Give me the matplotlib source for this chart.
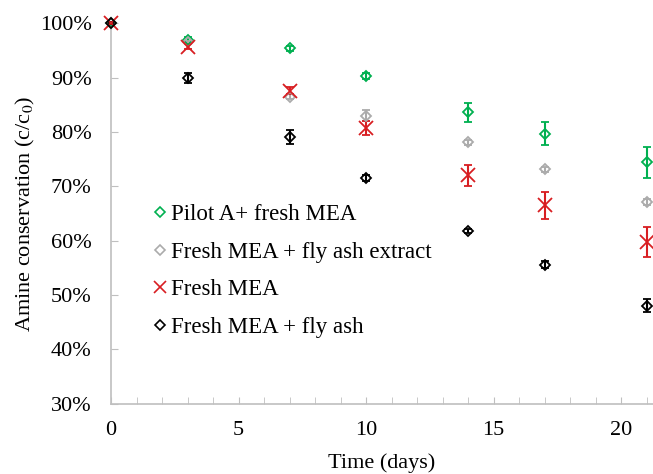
import matplotlib
matplotlib.use('Agg')
from matplotlib import pyplot as plt
from matplotlib.lines import Line2D
from matplotlib.ticker import PercentFormatter, MultipleLocator

days = [0, 3, 7, 10, 14, 17, 21]

pilot_a = [100, 97.0, 95.4, 90.3, 83.6, 79.7, 74.4]
pilot_a_err = [0.3, 0.4, 0.5, 0.5, 1.7, 2.1, 2.9]

ash_extract = [100, 96.5, 86.5, 83.0, 78.1, 73.1, 67.1]
ash_extract_err = [0.2, 0.3, 0.5, 1.0, 0.5, 0.5, 0.5]

fresh = [100, 95.7, 87.6, 80.8, 72.0, 66.5, 59.8]
fresh_err = [0.2, 0.4, 0.6, 1.3, 2.0, 2.5, 2.8]

ash = [100, 89.9, 79.0, 71.5, 61.8, 55.6, 48.0]
ash_err = [0.2, 0.9, 1.3, 0.5, 0.4, 0.6, 1.2]

labels = ['Pilot A+ fresh MEA', 'Fresh MEA + fly ash extract', 'Fresh MEA', 'Fresh MEA + fly ash']
colors = ['#00B050', '#ABABAB', '#D81E22', '#000000']
markers = ['D', 'D', 'x', 'D']

plt.rcParams['font.family'] = ['Liberation Serif', 'DejaVu Serif']
plt.rcParams['mathtext.fontset'] = 'stix'

fig = plt.figure(figsize=(6.53, 4.74), dpi=100)
ax = fig.add_axes([0.17, 0.148, 0.83, 0.803])

series = [(pilot_a, pilot_a_err), (ash_extract, ash_extract_err), (fresh, fresh_err), (ash, ash_err)]
handles = []
for (vals, err), lab, c, mk in zip(series, labels, colors, markers):
    ms = 10 if mk == 'x' else 5.6
    ax.errorbar(days, vals, yerr=err, fmt=mk, color=c, ecolor=c, mfc='none', mec=c,
                ms=ms, mew=1.3, elinewidth=1.5, capsize=3, capthick=1.5,
                clip_on=False, zorder=3)
    # legend only shows the marker, no error bar
    handles.append(Line2D([], [], ls='none', marker=mk, mfc='none', mec=c,
                          ms=ms * 0.85, mew=1.2, label=lab))

ax.set_xlim(0, 21.25)
ax.set_ylim(30, 100)
ax.yaxis.set_major_locator(MultipleLocator(10))
ax.yaxis.set_major_formatter(PercentFormatter(decimals=0))
ax.xaxis.set_major_locator(MultipleLocator(5))
ax.xaxis.set_minor_locator(MultipleLocator(1))

for s in ['top', 'right']:
    ax.spines[s].set_visible(False)
for s in ['left', 'bottom']:
    ax.spines[s].set_color('#BFBFBF')
    ax.spines[s].set_linewidth(1.2)

ax.tick_params(axis='both', which='both', direction='in', color='#BFBFBF', labelsize=16)
ax.tick_params(axis='x', which='both', length=5, pad=12)
ax.tick_params(axis='y', which='major', length=5, pad=14)

ax.set_xlabel('Time (days)', fontsize=16, labelpad=10)
ax.set_ylabel('Amine conservation (c/c$_0$)', fontsize=16, labelpad=2)

ax.legend(handles=handles, loc='upper left', bbox_to_anchor=(0.056, 0.555), frameon=False,
          fontsize=16.5, handlelength=0.6, handletextpad=0.2, labelspacing=0.72,
          borderpad=0)

fig.savefig('out.png', dpi=100)
